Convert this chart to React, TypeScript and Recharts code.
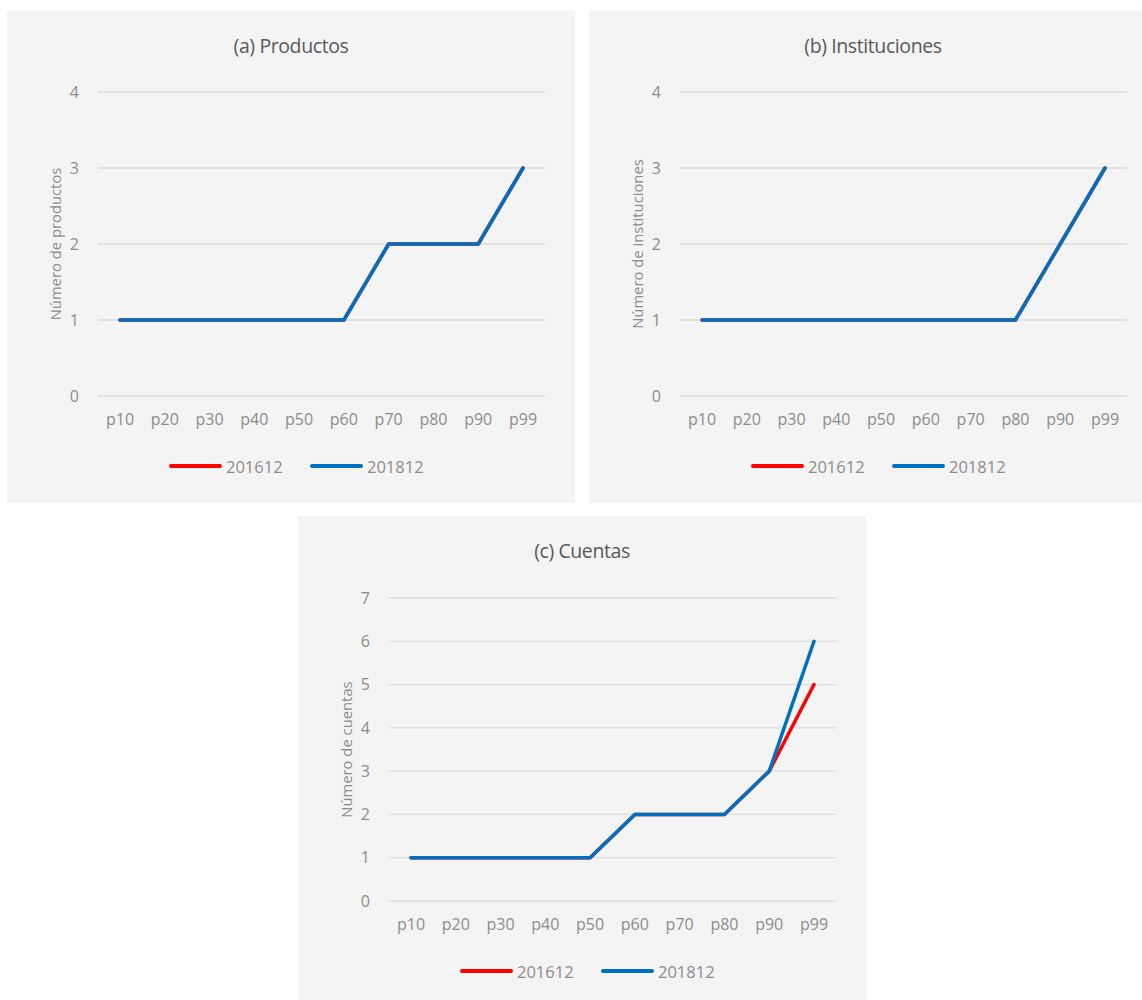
import React from 'react';
import { LineChart, Line, XAxis, YAxis, CartesianGrid, Label } from 'recharts';

const categories = ['p10', 'p20', 'p30', 'p40', 'p50', 'p60', 'p70', 'p80', 'p90', 'p99'];

const productos201612 = [1, 1, 1, 1, 1, 1, 2, 2, 2, 3];
const productos201812 = [1, 1, 1, 1, 1, 1, 2, 2, 2, 3];

const instituciones201612 = [1, 1, 1, 1, 1, 1, 1, 1, 2, 3];
const instituciones201812 = [1, 1, 1, 1, 1, 1, 1, 1, 2, 3];

const cuentas201612 = [1, 1, 1, 1, 1, 2, 2, 2, 3, 5];
const cuentas201812 = [1, 1, 1, 1, 1, 2, 2, 2, 3, 6];

const ticks4 = [0, 1, 2, 3, 4];
const ticks7 = [0, 1, 2, 3, 4, 5, 6, 7];

const seriesNames = ['201612', '201812'];

const FONT = '"Open Sans", "DejaVu Sans", sans-serif';
const RED = '#FF0000';
const BLUE = '#0070C0';
const TICK_COLOR = '#8c8c8c';
const TITLE_COLOR = '#595959';
const BG = '#F4F4F4';

const W = 568;
const H = 492;
const PLOT_LEFT = 91;
const PLOT_W = 447;
const X_AXIS_H = 30;

function buildRows(a: number[], b: number[]) {
  return categories.map((c, i) => ({ cat: c, s2016: a[i], s2018: b[i] }));
}

type PanelProps = {
  left: number;
  top: number;
  title: string;
  yLabel: string;
  rows: { cat: string; s2016: number; s2018: number }[];
  ticks: number[];
  plotTop: number;
  plotH: number;
};

function Panel({ left, top, title, yLabel, rows, ticks, plotTop, plotH }: PanelProps) {
  const margin = {
    top: plotTop,
    right: W - PLOT_LEFT - PLOT_W,
    left: 0,
    bottom: H - plotTop - plotH - X_AXIS_H,
  };
  return (
    <div
      style={{
        position: 'absolute',
        left,
        top,
        width: W,
        height: H,
        background: BG,
        fontFamily: FONT,
      }}
    >
      <div
        style={{
          position: 'absolute',
          left: 0,
          top: 21,
          width: W,
          textAlign: 'center',
          fontSize: 19.5,
          lineHeight: '28px',
          color: TITLE_COLOR,
          letterSpacing: -0.4,
        }}
      >
        {title}
      </div>
      <div style={{ position: 'absolute', left: 0, top: 0 }}>
        <LineChart width={W} height={H} data={rows} margin={margin}>
          <CartesianGrid vertical={false} stroke="#dcdcdc" strokeWidth={1.3} />
          <XAxis
            dataKey="cat"
            interval={0}
            axisLine={false}
            tickLine={false}
            tickSize={6}
            tickMargin={12}
            height={X_AXIS_H}
            padding={{ left: 22, right: 22 }}
            tick={{ fill: TICK_COLOR, fontSize: 16, fontFamily: FONT }}
          />
          <YAxis
            type="number"
            domain={[0, ticks[ticks.length - 1]]}
            ticks={ticks}
            interval={0}
            axisLine={false}
            tickLine={false}
            tickSize={6}
            tickMargin={13}
            width={PLOT_LEFT}
            tick={{ fill: TICK_COLOR, fontSize: 16, fontFamily: FONT }}
          >
            <Label
              content={(props: any) => {
                const vb = props.viewBox || { x: 0, y: 0, width: 0, height: 0 };
                const cx = vb.x + 48;
                const cy = vb.y + vb.height / 2;
                return (
                  <text
                    x={cx}
                    y={cy}
                    transform={`rotate(-90, ${cx}, ${cy})`}
                    textAnchor="middle"
                    dominantBaseline="central"
                    fill={TICK_COLOR}
                    fontSize={14.8}
                    fontFamily={FONT}
                  >
                    {yLabel}
                  </text>
                );
              }}
            />
          </YAxis>
          <Line
            type="linear"
            dataKey="s2016"
            name={seriesNames[0]}
            stroke={RED}
            strokeWidth={3.5}
            strokeLinecap="round"
            strokeLinejoin="round"
            dot={false}
            activeDot={false}
            isAnimationActive={false}
          />
          <Line
            type="linear"
            dataKey="s2018"
            name={seriesNames[1]}
            stroke={BLUE}
            strokeWidth={3.5}
            strokeLinecap="round"
            strokeLinejoin="round"
            dot={false}
            activeDot={false}
            isAnimationActive={false}
          />
        </LineChart>
      </div>
      <div
        style={{
          position: 'absolute',
          left: 162,
          top: 444,
          height: 22,
          display: 'flex',
          alignItems: 'center',
          fontSize: 16.5,
          color: TICK_COLOR,
        }}
      >
        <span style={{ display: 'inline-block', width: 53, height: 4, borderRadius: 2, background: RED }} />
        <span style={{ marginLeft: 4, width: 57 }}>{seriesNames[0]}</span>
        <span
          style={{ display: 'inline-block', width: 53, height: 4, borderRadius: 2, background: BLUE, marginLeft: 27 }}
        />
        <span style={{ marginLeft: 4 }}>{seriesNames[1]}</span>
      </div>
    </div>
  );
}

export default function App() {
  return (
    <div
      style={{
        position: 'fixed',
        left: 0,
        top: 0,
        width: 1142,
        height: 1000,
        overflow: 'hidden',
        background: '#ffffff',
      }}
    >
      <Panel
        left={7}
        top={11}
        title="(a) Productos"
        yLabel="Número de productos"
        rows={buildRows(productos201612, productos201812)}
        ticks={ticks4}
        plotTop={81}
        plotH={304}
      />
      <Panel
        left={589}
        top={11}
        title="(b) Instituciones"
        yLabel="Número de instituciones"
        rows={buildRows(instituciones201612, instituciones201812)}
        ticks={ticks4}
        plotTop={81}
        plotH={304}
      />
      <Panel
        left={298}
        top={516}
        title="(c) Cuentas"
        yLabel="Número de cuentas"
        rows={buildRows(cuentas201612, cuentas201812)}
        ticks={ticks7}
        plotTop={82}
        plotH={303}
      />
    </div>
  );
}
